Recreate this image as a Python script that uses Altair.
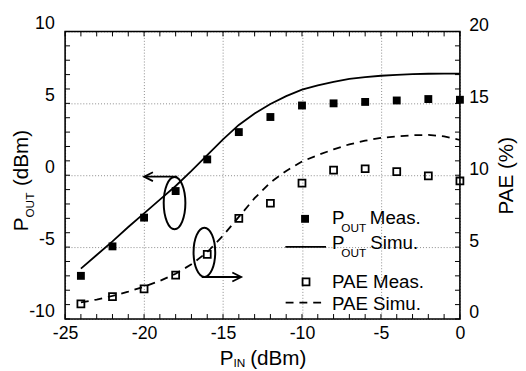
import altair as alt
import pandas as pd

# ---------------- data ----------------
pin_meas = [-24, -22, -20, -18, -16, -14, -12, -10, -8, -6, -4, -2, 0]
pout_meas = [-7.0, -4.95, -2.95, -1.1, 1.1, 3.0, 4.05, 4.85, 5.0, 5.1, 5.2, 5.3, 5.25]
pae_meas = [1.05, 1.55, 2.1, 3.05, 4.5, 7.0, 8.05, 9.45, 10.35, 10.45, 10.25, 9.95, 9.6]

pin_sim = [-24, -23, -22, -21, -20, -19, -18, -17, -16, -15, -14, -13, -12,
           -11, -10, -9, -8, -7, -6, -5, -4, -3, -2, -1, 0]
pout_sim = [-6.5, -5.55, -4.6, -3.6, -2.65, -1.7, -0.75, 0.3, 1.4, 2.5, 3.5, 4.3, 4.95,
            5.5, 5.95, 6.25, 6.5, 6.7, 6.82, 6.92, 6.98, 7.03, 7.06, 7.07, 7.07]
pae_sim = [1.15, 1.35, 1.6, 1.9, 2.25, 2.65, 3.15, 3.8, 4.65, 5.8, 7.1, 8.4, 9.5,
           10.3, 10.95, 11.4, 11.8, 12.15, 12.4, 12.6, 12.7, 12.78, 12.8, 12.7, 12.45]

x_major = [-25, -20, -15, -10, -5, 0]
y_left_major = [-10, -5, 0, 5, 10]
y_right_major = [0, 5, 10, 15, 20]
x_minor = list(range(-25, 1))
y_minor = list(range(-10, 11))

# annotation ellipses (centre, in P_IN / P_OUT units) and arrows
ell1_x, ell1_y = [-18.07], [-1.94]
ell2_x, ell2_y = [-16.18], [-5.36]
arrow_l_from, arrow_l_to, arrow_l_y = [-17.9], [-20.0], [-0.1]
arrow_r_from, arrow_r_to, arrow_r_y = [-16.35], [-13.85], [-7.08]

# ---------------- style ----------------
W, H = 401, 292
FONT = "Liberation Sans, Arial, Helvetica, sans-serif"
xs = alt.Scale(domain=[-25, 0], nice=False, zero=False)
ysl = alt.Scale(domain=[-10, 10], nice=False, zero=False)
ysr = alt.Scale(domain=[0, 20], nice=False, zero=False)

meas = pd.DataFrame({"pin": pin_meas, "pout": pout_meas, "pae": pae_meas})
sim = pd.DataFrame({"pin": pin_sim, "pout": pout_sim, "pae": pae_sim})
dummy = pd.DataFrame({"d": [0]})

LBL = "'' + datum.value"
x_axis = alt.Axis(orient="bottom", values=x_major, title=None, ticks=False, domain=False,
                  grid=True, gridDash=[1, 2], gridColor="#8a8a8a", gridWidth=1,
                  labelFlush=False, labelOverlap=False, labelPadding=6, labelExpr=LBL,
                  labelFontSize=18, labelFont=FONT, labelColor="black")
yl_axis = alt.Axis(orient="left", values=y_left_major, title=None, ticks=False, domain=False,
                   grid=True, gridDash=[1, 2], gridColor="#8a8a8a", gridWidth=1,
                   labelOverlap=False, labelPadding=11, labelOffset=-8, labelExpr=LBL,
                   labelFontSize=18, labelFont=FONT, labelColor="black")
yr_axis = alt.Axis(orient="right", values=y_right_major, title=None, ticks=False, domain=False,
                   grid=False, labelOverlap=False, labelPadding=9, labelOffset=-6, labelExpr=LBL,
                   labelFontSize=18, labelFont=FONT, labelColor="black")


def X(f):
    return alt.X(f, scale=xs, axis=x_axis)


def YL(f):
    return alt.Y(f, scale=ysl, axis=yl_axis)


def YR(f):
    return alt.Y(f, scale=ysr, axis=yr_axis)


pout_pts = alt.Chart(meas).mark_square(size=64, color="black", opacity=1).encode(
    x=X("pin:Q"), y=YL("pout:Q"))
pout_line = alt.Chart(sim).mark_line(color="black", strokeWidth=1.8).encode(
    x=X("pin:Q"), y=YL("pout:Q"))

pae_pts = alt.Chart(meas).mark_square(size=50, filled=False, color="black",
                                       strokeWidth=1.8, opacity=1).encode(
    x=X("pin:Q"), y=YR("pae:Q"))
pae_line = alt.Chart(sim).mark_line(color="black", strokeWidth=1.8, strokeDash=[8, 6]).encode(
    x=X("pin:Q"), y=YR("pae:Q"))

# inside minor ticks
xt = pd.DataFrame({"t": x_minor})
yt = pd.DataFrame({"t": y_minor})
tick_b = alt.Chart(xt).mark_rule(color="black", strokeWidth=1).encode(
    x=X("t:Q"), y=alt.value(H), y2=alt.value(H - 5))
tick_t = alt.Chart(xt).mark_rule(color="black", strokeWidth=1).encode(
    x=X("t:Q"), y=alt.value(0), y2=alt.value(5))
tick_l = alt.Chart(yt).mark_rule(color="black", strokeWidth=1).encode(
    y=YL("t:Q"), x=alt.value(0), x2=alt.value(5))
tick_r = alt.Chart(yt).mark_rule(color="black", strokeWidth=1).encode(
    y=YL("t:Q"), x=alt.value(W), x2=alt.value(W - 5))

# frame
frame = alt.Chart(dummy).mark_rect(fill=None, stroke="black", strokeWidth=1.6).encode(
    x=alt.value(0), x2=alt.value(W), y=alt.value(0), y2=alt.value(H))


def ellipse_path(a):
    k = 0.5523
    return (f"M0,-1 C{k*a:.4f},-1 {a:.4f},{-k:.4f} {a:.4f},0 "
            f"C{a:.4f},{k:.4f} {k*a:.4f},1 0,1 "
            f"C{-k*a:.4f},1 {-a:.4f},{k:.4f} {-a:.4f},0 "
            f"C{-a:.4f},{-k:.4f} {-k*a:.4f},-1 0,-1 Z")


ell1 = alt.Chart(pd.DataFrame({"x": ell1_x, "y": ell1_y})).mark_point(
    shape=ellipse_path(22 / 53), size=53 * 53, filled=False, color="black",
    strokeWidth=2, opacity=1).encode(x=X("x:Q"), y=YL("y:Q"))
ell2 = alt.Chart(pd.DataFrame({"x": ell2_x, "y": ell2_y})).mark_point(
    shape=ellipse_path(22 / 50), size=50 * 50, filled=False, color="black",
    strokeWidth=2, opacity=1).encode(x=X("x:Q"), y=YL("y:Q"))

arr_l = pd.DataFrame({"a": arrow_l_from, "b": arrow_l_to, "y": arrow_l_y})
arr_r = pd.DataFrame({"a": arrow_r_from, "b": arrow_r_to, "y": arrow_r_y})
arr_l_line = alt.Chart(arr_l).mark_rule(color="black", strokeWidth=1.8).encode(
    x=X("a:Q"), x2="b:Q", y=YL("y:Q"))
arr_r_line = alt.Chart(arr_r).mark_rule(color="black", strokeWidth=1.8).encode(
    x=X("a:Q"), x2="b:Q", y=YL("y:Q"))
arr_l_head = alt.Chart(arr_l).mark_point(
    shape="M2,-1 L0,0 L2,1", size=81, filled=False, color="black", strokeWidth=1.8,
    opacity=1).encode(x=X("b:Q"), y=YL("y:Q"))
arr_r_head = alt.Chart(arr_r).mark_point(
    shape="M-2,-1 L0,0 L-2,1", size=81, filled=False, color="black", strokeWidth=1.8,
    opacity=1).encode(x=X("b:Q"), y=YL("y:Q"))


def txt(s, x, y, size, angle=0):
    return alt.Chart(dummy).mark_text(
        text=s, font=FONT, fontSize=size, angle=angle, align="left",
        baseline="alphabetic", color="black").encode(x=alt.value(x), y=alt.value(y))


# legend
leg_sq1 = alt.Chart(dummy).mark_square(size=64, color="black", opacity=1).encode(
    x=alt.value(243.7), y=alt.value(190.3))
leg_ln = alt.Chart(dummy).mark_rule(color="black", strokeWidth=1.8).encode(
    x=alt.value(223.7), x2=alt.value(265), y=alt.value(218.7))
leg_sq2 = alt.Chart(dummy).mark_square(size=50, filled=False, color="black",
                                        strokeWidth=1.8, opacity=1).encode(
    x=alt.value(244.7), y=alt.value(254.3))
leg_dash = alt.Chart(dummy).mark_rule(color="black", strokeWidth=1.8, strokeDash=[8, 6]).encode(
    x=alt.value(224), x2=alt.value(262), y=alt.value(275.3))

overlay = [
    frame, tick_b, tick_t, tick_l, tick_r,
    leg_sq1, leg_ln, leg_sq2, leg_dash,
    txt("P", 271, 196, 19), txt("OUT", 280.5, 204, 12), txt("Meas.", 309.5, 196, 19),
    txt("P", 271, 221, 19), txt("OUT", 280.5, 229, 12), txt("Simu.", 310, 221, 19),
    txt("PAE Meas.", 271, 261, 19),
    txt("PAE Simu.", 271, 283, 19),
    txt("P", -38, 203, 21, 270), txt("OUT", -32, 189, 12, 270), txt("(dBm)", -38, 157, 21, 270),
    txt("P", 157, 339, 21), txt("IN", 171, 341, 12), txt("(dBm)", 188, 339, 21),
    txt("PAE (%)", 455, 186, 21, 270),
]

left = alt.layer(pout_pts, pout_line, ell1, ell2, arr_l_line, arr_r_line,
                 arr_l_head, arr_r_head, *overlay)
right = alt.layer(pae_line, pae_pts)

chart = alt.layer(left, right).resolve_scale(y="independent").properties(
    width=W, height=H, background="white",
    autosize=alt.AutoSizeParams(type="none"),
    padding={"left": 58, "top": 21, "right": 59, "bottom": 50},
).configure_view(stroke=None)

chart.save("out.html", embed_options={"renderer": "svg", "actions": False})
